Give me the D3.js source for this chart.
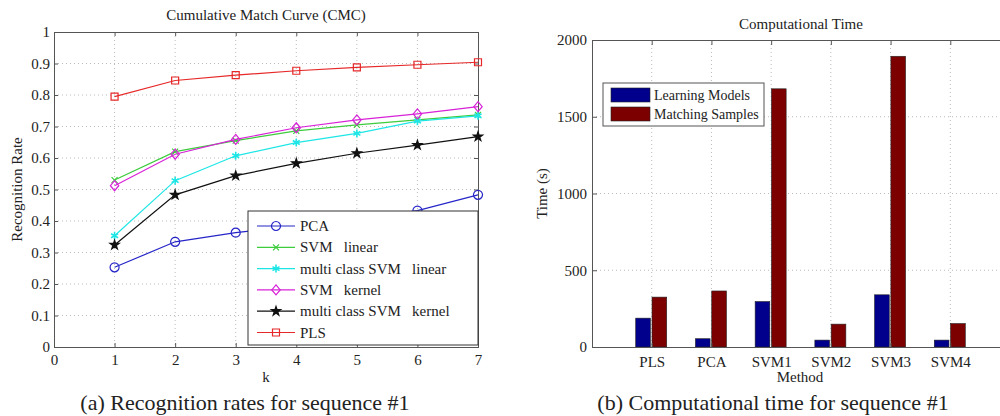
<!DOCTYPE html>
<html>
<head>
<meta charset="utf-8">
<script src="https://cdn.jsdelivr.net/npm/d3@7"></script>
<style>
body { margin: 0; background: #fff; }
text { font-family: "Liberation Serif", "DejaVu Serif", serif; fill: #222; }
</style>
</head>
<body>
<svg id="chart" width="1000" height="416"></svg>
<script>
// ---- data: CMC curves (left) ----
const K_VALUES = [1, 2, 3, 4, 5, 6, 7];
const PCA_RATES = [0.253, 0.334, 0.363, 0.385, 0.405, 0.433, 0.483];
const SVM_LINEAR_RATES = [0.530, 0.620, 0.655, 0.686, 0.705, 0.721, 0.737];
const MC_SVM_LINEAR_RATES = [0.353, 0.528, 0.607, 0.649, 0.678, 0.717, 0.734];
const SVM_KERNEL_RATES = [0.512, 0.612, 0.659, 0.696, 0.721, 0.740, 0.763];
const MC_SVM_KERNEL_RATES = [0.324, 0.483, 0.544, 0.583, 0.615, 0.641, 0.668];
const PLS_RATES = [0.795, 0.846, 0.863, 0.877, 0.888, 0.896, 0.904];
const CMC_LABELS = ["PCA", "SVM   linear", "multi class SVM   linear", "SVM   kernel", "multi class SVM   kernel", "PLS"];
const CMC_X_TICKS = [0, 1, 2, 3, 4, 5, 6, 7];
const CMC_Y_TICKS = [0, 0.1, 0.2, 0.3, 0.4, 0.5, 0.6, 0.7, 0.8, 0.9, 1];

// ---- data: computational time (right) ----
const METHODS = ["PLS", "PCA", "SVM1", "SVM2", "SVM3", "SVM4"];
const LEARNING_TIMES = [188, 54, 296, 45, 340, 45];
const MATCHING_TIMES = [325, 365, 1682, 149, 1894, 153];
const TIME_LABELS = ["Learning Models", "Matching Samples"];
const TIME_Y_TICKS = [0, 500, 1000, 1500, 2000];

const svg = d3.select("#chart");
const AXIS_COLOR = "#555";
const GRID_COLOR = "#bbb";

// marker shapes, Matlab style
const MARKERS = {
    circle: d3.symbol(d3.symbolCircle, 64)(),
    x: "M-3,-3L3,3M-3,3L3,-3",
    asterisk: "M0,-4L0,4M-3.5,-2L3.5,2M-3.5,2L3.5,-2",
    diamond: "M0,-5L4.2,0L0,5L-4.2,0Z",
    star: d3.symbol(d3.symbolStar, 26)(),
    square: d3.symbol(d3.symbolSquare, 49)(),
};

const cmcSeries = [
    { label: CMC_LABELS[0], values: PCA_RATES, color: "#2626c8", marker: "circle", fill: "none" },
    { label: CMC_LABELS[1], values: SVM_LINEAR_RATES, color: "#3ccc3c", marker: "x", fill: "none" },
    { label: CMC_LABELS[2], values: MC_SVM_LINEAR_RATES, color: "#1ee6e6", marker: "asterisk", fill: "none" },
    { label: CMC_LABELS[3], values: SVM_KERNEL_RATES, color: "#d822d8", marker: "diamond", fill: "none" },
    { label: CMC_LABELS[4], values: MC_SVM_KERNEL_RATES, color: "#111", marker: "star", fill: "#111" },
    { label: CMC_LABELS[5], values: PLS_RATES, color: "#e62828", marker: "square", fill: "none" },
];

// ---------------- left chart ----------------
const L = { left: 54, right: 478, top: 32, bottom: 347 };
const xK = d3.scaleLinear().domain([0, 7]).range([L.left, L.right]);
const yRate = d3.scaleLinear().domain([0, 1]).range([L.bottom, L.top]);

const left = svg.append("g");

// grid
left.selectAll(".vgrid").data(CMC_X_TICKS.slice(1, -1)).enter().append("line")
    .attr("x1", (d) => xK(d)).attr("x2", (d) => xK(d))
    .attr("y1", L.top).attr("y2", L.bottom)
    .attr("stroke", GRID_COLOR).attr("stroke-dasharray", "1,3");
left.selectAll(".hgrid").data(CMC_Y_TICKS.slice(1, -1)).enter().append("line")
    .attr("x1", L.left).attr("x2", L.right)
    .attr("y1", (d) => yRate(d)).attr("y2", (d) => yRate(d))
    .attr("stroke", GRID_COLOR).attr("stroke-dasharray", "1,3");

function styleAxis(g, showText) {
    g.select(".domain").attr("stroke", AXIS_COLOR);
    g.selectAll(".tick line").attr("stroke", AXIS_COLOR);
    g.selectAll("text").style("font-size", "15px").attr("fill", "#222")
        .style("font-family", "Liberation Serif");
    if (!showText) g.selectAll("text").remove();
}

left.append("g").attr("transform", `translate(0,${L.bottom})`)
    .call(d3.axisBottom(xK).tickValues(CMC_X_TICKS).tickSize(-4).tickPadding(7).tickFormat(d3.format("d")))
    .call((g) => styleAxis(g, true));
left.append("g").attr("transform", `translate(0,${L.top})`)
    .call(d3.axisTop(xK).tickValues(CMC_X_TICKS).tickSize(-4))
    .call((g) => styleAxis(g, false));
left.append("g").attr("transform", `translate(${L.left},0)`)
    .call(d3.axisLeft(yRate).tickValues(CMC_Y_TICKS).tickSize(-4).tickPadding(4).tickFormat((d) => d === 0 || d === 1 ? d3.format("d")(d) : d3.format(".1f")(d)))
    .call((g) => styleAxis(g, true));
left.append("g").attr("transform", `translate(${L.right},0)`)
    .call(d3.axisRight(yRate).tickValues(CMC_Y_TICKS).tickSize(-4))
    .call((g) => styleAxis(g, false));

const line = d3.line().x((d, i) => xK(K_VALUES[i])).y((d) => yRate(d));

cmcSeries.forEach((s) => {
    left.append("path")
        .attr("d", line(s.values))
        .attr("fill", "none")
        .attr("stroke", s.color)
        .attr("stroke-width", 1.2);
    left.selectAll(null).data(s.values).enter().append("path")
        .attr("d", MARKERS[s.marker])
        .attr("transform", (d, i) => `translate(${xK(K_VALUES[i])},${yRate(d)})`)
        .attr("fill", s.fill)
        .attr("stroke", s.color)
        .attr("stroke-width", s.marker === "asterisk" ? 1.6 : 1.2);
});

// legend
const legL = left.append("g");
legL.append("rect")
    .attr("x", 248).attr("y", 211).attr("width", L.right - 248).attr("height", 134)
    .attr("fill", "#fff").attr("stroke", "#333").attr("stroke-width", 1);
cmcSeries.forEach((s, i) => {
    const y = 226 + i * 21.3;
    legL.append("line").attr("x1", 257).attr("x2", 295).attr("y1", y).attr("y2", y)
        .attr("stroke", s.color).attr("stroke-width", 1.2);
    legL.append("path").attr("d", MARKERS[s.marker])
        .attr("transform", `translate(276,${y})`)
        .attr("fill", s.fill).attr("stroke", s.color)
        .attr("stroke-width", s.marker === "asterisk" ? 1.6 : 1.2);
    legL.append("text").attr("x", 300).attr("y", y + 5)
        .attr("xml:space", "preserve").style("white-space", "pre")
        .style("font-size", "15px").text(s.label);
});

left.append("text").attr("x", (L.left + L.right) / 2).attr("y", 20)
    .attr("text-anchor", "middle").style("font-size", "15px")
    .text("Cumulative Match Curve (CMC)");
left.append("text").attr("x", xK(3.5)).attr("y", 382)
    .attr("text-anchor", "middle").style("font-size", "15px").text("k");
left.append("text")
    .attr("transform", `translate(22,${(L.top + L.bottom) / 2}) rotate(-90)`)
    .attr("text-anchor", "middle").style("font-size", "15px").text("Recognition Rate");
left.append("text").attr("x", 245).attr("y", 410)
    .attr("text-anchor", "middle").style("font-size", "22px")
    .text("(a) Recognition rates for sequence #1");

// ---------------- right chart ----------------
const R = { left: 592, right: 1010, top: 40, bottom: 347 };
const xCat = d3.scaleLinear().domain([0, 7]).range([R.left, R.right]);
const yTime = d3.scaleLinear().domain([0, 2000]).range([R.bottom, R.top]);
const xSub = d3.scaleBand().domain(TIME_LABELS).range([-16, 15]).paddingInner(0.1);
const BAR_COLORS = ["#00008c", "#7c0000"];

const right = svg.append("g");

const catTicks = METHODS.map((_m, i) => i + 1);
right.selectAll(".vgrid").data(catTicks).enter().append("line")
    .attr("x1", (d) => xCat(d)).attr("x2", (d) => xCat(d))
    .attr("y1", R.top).attr("y2", R.bottom)
    .attr("stroke", GRID_COLOR).attr("stroke-dasharray", "1,3");
right.selectAll(".hgrid").data(TIME_Y_TICKS.slice(1, -1)).enter().append("line")
    .attr("x1", R.left).attr("x2", R.right)
    .attr("y1", (d) => yTime(d)).attr("y2", (d) => yTime(d))
    .attr("stroke", GRID_COLOR).attr("stroke-dasharray", "1,3");

const barRows = METHODS.map((m, i) => ({ method: m, pos: i + 1, vals: [LEARNING_TIMES[i], MATCHING_TIMES[i]] }));
const groups = right.selectAll(".grp").data(barRows).enter().append("g")
    .attr("transform", (d) => `translate(${xCat(d.pos)},0)`);
groups.selectAll("rect").data((d) => d.vals.map((v, j) => ({ key: TIME_LABELS[j], v, j })))
    .enter().append("rect")
    .attr("x", (d) => xSub(d.key))
    .attr("width", xSub.bandwidth())
    .attr("y", (d) => yTime(d.v))
    .attr("height", (d) => yTime(0) - yTime(d.v))
    .attr("fill", (d) => BAR_COLORS[d.j])
    .attr("stroke", "#222").attr("stroke-width", 0.6);

right.append("g").attr("transform", `translate(0,${R.bottom})`)
    .call(d3.axisBottom(xCat).tickValues(catTicks).tickSize(-4).tickPadding(9).tickFormat((d) => METHODS[d - 1]))
    .call((g) => styleAxis(g, true));
right.append("g").attr("transform", `translate(0,${R.top})`)
    .call(d3.axisTop(xCat).tickValues(catTicks).tickSize(-5))
    .call((g) => styleAxis(g, false));
right.append("g").attr("transform", `translate(${R.left},0)`)
    .call(d3.axisLeft(yTime).tickValues(TIME_Y_TICKS).tickSize(-5).tickPadding(5).tickFormat(d3.format("d")))
    .call((g) => styleAxis(g, true));

// legend
const legR = right.append("g");
legR.append("rect").attr("x", 603).attr("y", 83).attr("width", 161).attr("height", 43)
    .attr("fill", "#fff").attr("stroke", "#555").attr("stroke-width", 1);
TIME_LABELS.forEach((lab, i) => {
    const y = 88 + i * 19;
    legR.append("rect").attr("x", 611).attr("y", y).attr("width", 39).attr("height", 14)
        .attr("fill", BAR_COLORS[i]).attr("stroke", "#222").attr("stroke-width", 0.6);
    legR.append("text").attr("x", 654).attr("y", y + 11.5)
        .style("font-size", "14px").text(lab);
});

right.append("text").attr("x", (R.left + R.right) / 2).attr("y", 29)
    .attr("text-anchor", "middle").style("font-size", "15px").text("Computational Time");
right.append("text").attr("x", 800).attr("y", 382)
    .attr("text-anchor", "middle").style("font-size", "15px").text("Method");
right.append("text")
    .attr("transform", `translate(547,${(R.top + R.bottom) / 2}) rotate(-90)`)
    .attr("text-anchor", "middle").style("font-size", "15px").text("Time (s)");
right.append("text").attr("x", 773).attr("y", 410)
    .attr("text-anchor", "middle").style("font-size", "22px")
    .text("(b) Computational time for sequence #1");
</script>
</body>
</html>
